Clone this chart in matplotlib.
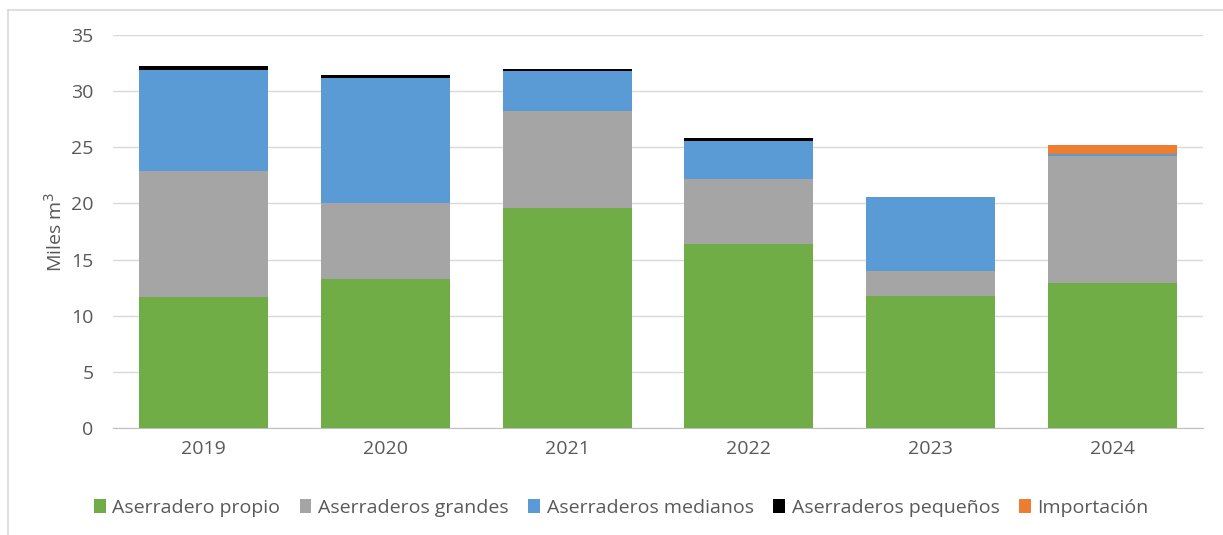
import matplotlib
matplotlib.use("Agg")
import matplotlib.pyplot as plt
import numpy as np
from matplotlib.lines import Line2D

plt.rcParams['font.family'] = ['Open Sans', 'DejaVu Sans']

years = ["2019", "2020", "2021", "2022", "2023", "2024"]
propio = [11.7, 13.3, 19.6, 16.4, 11.8, 12.9]
grandes = [11.2, 6.7, 8.6, 5.8, 2.2, 11.3]
medianos = [9.0, 11.2, 3.6, 3.4, 6.6, 0.2]
pequenos = [0.35, 0.25, 0.2, 0.25, 0.0, 0.0]
importacion = [0.0, 0.0, 0.0, 0.0, 0.0, 0.8]

series = [
    ("Aserradero propio", propio, "#70ad47"),
    ("Aserraderos grandes", grandes, "#a5a5a5"),
    ("Aserraderos medianos", medianos, "#5b9bd5"),
    ("Aserraderos pequeños", pequenos, "#000000"),
    ("Importación", importacion, "#ed7d31"),
]

W, H = 1223, 535
fig = plt.figure(figsize=(W / 100, H / 100), dpi=100)
ax = fig.add_axes([113 / W, 1 - 428 / H, (1203 - 113) / W, (428 - 35) / H])

x = np.arange(len(years))
bottom = np.zeros(len(years))
for name, vals, col in series:
    v = np.array(vals)
    ax.bar(x, v, bottom=bottom, width=0.71, color=col, label=name, zorder=3)
    bottom += v

ax.set_xlim(-0.5, len(years) - 0.5)
ax.set_ylim(0, 35)
ax.set_yticks(range(0, 36, 5))
ax.set_xticks(x)
ax.set_xticklabels(years)
ax.tick_params(axis='both', length=0, labelsize=14, colors="#595959")
ax.tick_params(axis='y', pad=14)
ax.tick_params(axis='x', pad=9)
ax.grid(axis='y', color="#d9d9d9", linewidth=1, zorder=0)
for s in ["top", "right", "left"]:
    ax.spines[s].set_visible(False)
ax.spines["bottom"].set_color("#bfbfbf")
ax.set_ylabel("Miles m$^3$", fontsize=14, color="#595959", labelpad=4)

fig.legend(loc="center", bbox_to_anchor=(0.508, 1 - 508 / H), ncol=5, frameon=False,
           fontsize=14, handlelength=0.6, handleheight=0.75, handletextpad=0.35,
           columnspacing=1.0, labelcolor="#595959")

# chart frame (top and left edges visible)
fig.add_artist(Line2D([8 / W, 1.0], [1 - 10 / H, 1 - 10 / H], transform=fig.transFigure,
                      color="#d9d9d9", linewidth=1.2))
fig.add_artist(Line2D([8 / W, 8 / W], [0, 1 - 10 / H], transform=fig.transFigure,
                      color="#d9d9d9", linewidth=1.2))

fig.savefig("out.png", dpi=100)
